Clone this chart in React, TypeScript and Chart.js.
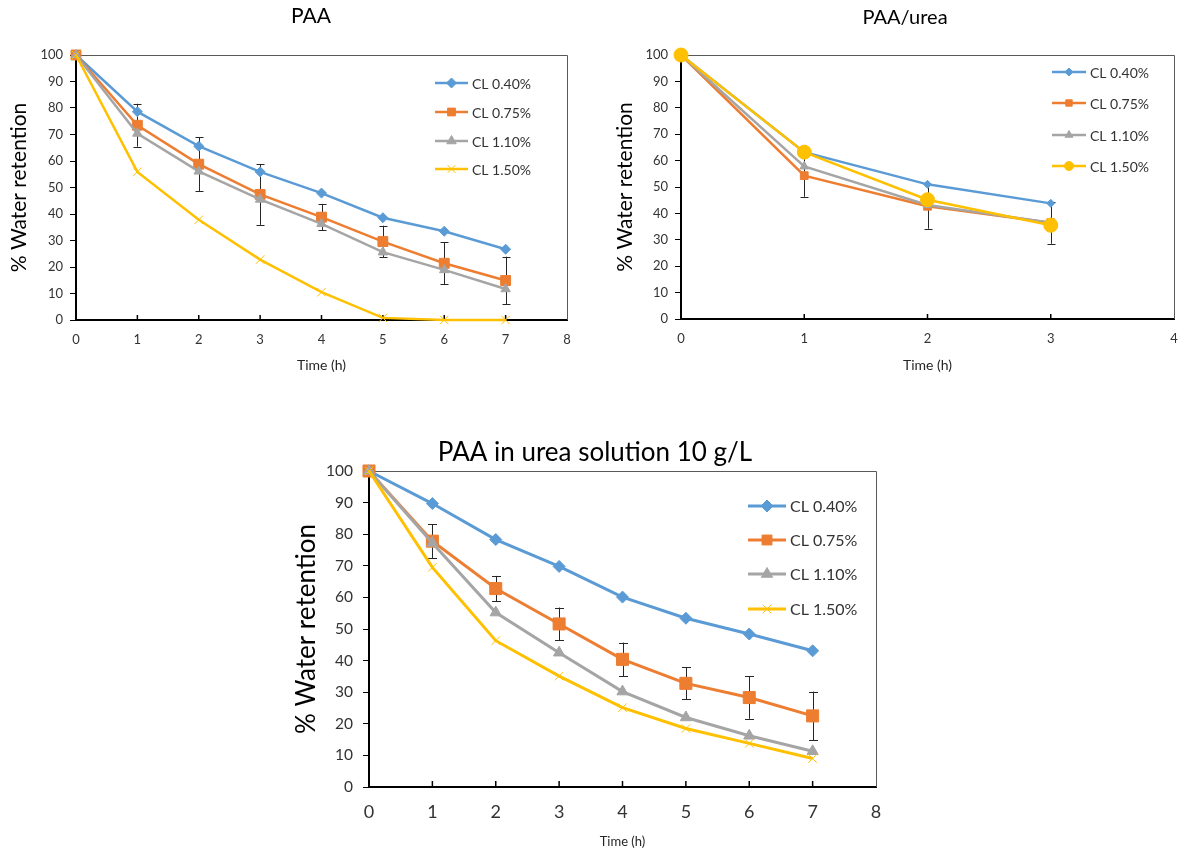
import React, { useEffect, useRef } from 'react';
import { Chart, registerables } from 'chart.js';
import { drawPoint } from 'chart.js/helpers';

Chart.register(...registerables);

const FONT = 'Lato, "Open Sans", "DejaVu Sans", sans-serif';

const seriesNames = ['CL 0.40%', 'CL 0.75%', 'CL 1.10%', 'CL 1.50%'];
const seriesColors = ['#5B9BD5', '#ED7D31', '#A5A5A5', '#FFC000'];

// Chart 1: PAA
const paaTimes = [0, 1, 2, 3, 4, 5, 6, 7];
const paaCL040 = [100, 78.6, 65.6, 55.9, 47.9, 38.6, 33.5, 26.7];
const paaCL075 = [100, 73.5, 58.8, 47.4, 38.8, 29.6, 21.4, 14.9];
const paaCL110 = [100, 70.4, 56.1, 45.5, 36.3, 25.6, 18.9, 11.7];
const paaCL150 = [100, 55.9, 37.8, 22.8, 10.5, 0.8, 0, 0];
const paaErr075 = [0, 8.1, 10.1, 11.5, 5, 6, 8, 9];
const paaXTicks = [0, 8];

// Chart 2: PAA/urea
const ureaTimes = [0, 1, 2, 3];
const ureaCL040 = [100, 63.2, 51, 43.8];
const ureaCL075 = [100, 54.3, 42.7, 36.5];
const ureaCL110 = [100, 57.8, 43.2, 36.5];
const ureaCL150 = [100, 63.2, 45.2, 35.5];
const ureaErr075 = [0, 8, 8.5, 8];
const ureaXTicks = [0, 4];

// Chart 3: PAA in urea solution 10 g/L
const solTimes = [0, 1, 2, 3, 4, 5, 6, 7];
const solCL040 = [100, 89.7, 78.3, 69.8, 60.1, 53.4, 48.4, 43.1];
const solCL075 = [100, 77.8, 62.8, 51.6, 40.4, 32.8, 28.3, 22.5];
const solCL110 = [100, 77.2, 55.2, 42.5, 30.2, 22, 16.2, 11.3];
const solCL150 = [100, 69.5, 46.3, 35.1, 25.1, 18.5, 13.8, 9];
const solErr075 = [0, 5.3, 4, 5.2, 5.3, 5.1, 6.7, 7.7];
const solXTicks = [0, 8];

const yTicks = [0, 100, 10];

const decorPlugin = {
  id: 'decor',
  beforeDatasetsDraw(chart: any, _args: any, opts: any) {
    const { ctx, chartArea: a, scales } = chart;
    const x = scales.x;
    const y = scales.y;
    ctx.save();
    // top and right frame
    ctx.strokeStyle = '#595959';
    ctx.lineWidth = 1;
    ctx.beginPath();
    ctx.moveTo(a.left, Math.round(a.top) + 0.5);
    ctx.lineTo(Math.round(a.right) + 0.5, Math.round(a.top) + 0.5);
    ctx.lineTo(Math.round(a.right) + 0.5, a.bottom);
    ctx.stroke();
    // inside x tick marks
    ctx.strokeStyle = '#000';
    ctx.lineWidth = 1.5;
    x.ticks.forEach((t: any) => {
      if (t.value === x.min || t.value === x.max) return;
      const px = x.getPixelForValue(t.value);
      ctx.beginPath();
      ctx.moveTo(px, a.bottom);
      ctx.lineTo(px, a.bottom - opts.xTickLen);
      ctx.stroke();
    });
    // error bars
    const ds = chart.data.datasets[opts.errSeries];
    const errs: number[] = opts.errors;
    ctx.strokeStyle = '#262626';
    ctx.lineWidth = 1;
    ds.data.forEach((p: any, i: number) => {
      const e = errs[i];
      if (!e) return;
      const px = Math.round(x.getPixelForValue(p.x)) + 0.5;
      const yt = y.getPixelForValue(p.y + e);
      const yb = y.getPixelForValue(p.y - e);
      const cap = opts.capHalf;
      ctx.beginPath();
      ctx.moveTo(px, yt);
      ctx.lineTo(px, yb);
      ctx.moveTo(px - cap, Math.round(yt) + 0.5);
      ctx.lineTo(px + cap, Math.round(yt) + 0.5);
      ctx.moveTo(px - cap, Math.round(yb) + 0.5);
      ctx.lineTo(px + cap, Math.round(yb) + 0.5);
      ctx.stroke();
    });
    ctx.restore();
  },
  afterDraw(chart: any, _args: any, opts: any) {
    const { ctx } = chart;
    ctx.save();
    // title
    ctx.fillStyle = '#000';
    ctx.font = `${opts.titleSize}px ${FONT}`;
    ctx.textAlign = 'center';
    ctx.textBaseline = 'middle';
    ctx.fillText(opts.title, opts.titleX, opts.titleY);
    // legend
    ctx.font = `${opts.legendSize}px ${FONT}`;
    ctx.textAlign = 'left';
    chart.data.datasets.forEach((ds: any, i: number) => {
      const ly = opts.legendYs[i];
      const lx = opts.legendX;
      const len = opts.legendLen;
      ctx.strokeStyle = ds.borderColor;
      ctx.lineWidth = ds.borderWidth;
      ctx.beginPath();
      ctx.moveTo(lx, ly);
      ctx.lineTo(lx + len, ly);
      ctx.stroke();
      ctx.fillStyle = ds.pointBackgroundColor;
      ctx.strokeStyle = ds.pointBorderColor;
      ctx.lineWidth = ds.pointBorderWidth;
      drawPoint(ctx, {
        pointStyle: ds.pointStyle,
        rotation: 0,
        radius: Math.min(ds.pointRadius, opts.legendMaxRadius),
        borderWidth: ds.pointBorderWidth,
      }, lx + len / 2, ly);
      ctx.fillStyle = '#333';
      ctx.fillText(ds.label, lx + len + opts.legendGap, ly + 1);
    });
    ctx.restore();
  },
};

type Style = { pointStyle: string; radius: number; border: number };

function makeConfig(p: any) {
  const seriesValues: number[][] = p.series;
  const datasets = seriesValues.map((vals, i) => {
    const st: Style = p.styles[i];
    const c = seriesColors[i];
    return {
      label: seriesNames[i],
      data: vals.map((v, k) => ({ x: p.times[k], y: v })),
      borderColor: c,
      backgroundColor: c,
      borderWidth: p.lineWidth,
      pointStyle: st.pointStyle,
      pointRadius: st.radius,
      pointHoverRadius: st.radius,
      pointBackgroundColor: c,
      pointBorderColor: c,
      pointBorderWidth: st.border,
      tension: 0,
      clip: false,
      order: 4 - i,
    };
  });
  return {
    type: 'line',
    data: { datasets },
    plugins: [decorPlugin],
    options: {
      animation: false,
      responsive: false,
      devicePixelRatio: 1,
      events: [],
      layout: { padding: { left: 0, top: p.padTop, right: p.padRight, bottom: 0 } },
      scales: {
        x: {
          type: 'linear',
          min: p.xTicks[0],
          max: p.xTicks[1],
          afterFit: (s: any) => {
            s.height = p.xAxisH;
            s.paddingLeft = 0;
            s.paddingRight = 0;
          },
          ticks: { stepSize: 1, color: '#333', font: { family: FONT, size: p.xTickSize }, padding: p.xTickPad },
          grid: { display: true, drawOnChartArea: false, drawTicks: false },
          border: { display: true, color: '#000', width: 2 },
          title: {
            display: true,
            text: 'Time (h)',
            color: '#262626',
            font: { family: FONT, size: p.xTitleSize, lineHeight: 1 },
            padding: { top: 0, bottom: p.xTitlePad },
          },
        },
        y: {
          min: yTicks[0],
          max: yTicks[1],
          afterFit: (s: any) => { s.width = p.yAxisW; },
          ticks: { stepSize: yTicks[2], color: '#333', font: { family: FONT, size: p.yTickSize }, padding: p.yTickPad },
          grid: { display: true, drawOnChartArea: false, drawTicks: true, tickLength: 6, color: '#000', lineWidth: 1 },
          border: { display: true, color: '#000', width: 2 },
          title: {
            display: true,
            text: '% Water retention',
            color: '#000',
            font: { family: FONT, size: p.yTitleSize, lineHeight: 1 },
            padding: { top: p.yTitlePad, bottom: 0 },
          },
        },
      },
      plugins: {
        legend: { display: false },
        title: { display: false },
        tooltip: { enabled: false },
        decor: {
          title: p.title,
          titleX: p.titleX,
          titleY: p.titleY,
          titleSize: p.titleSize,
          legendX: p.legendX,
          legendYs: p.legendYs,
          legendLen: p.legendLen,
          legendGap: p.legendGap,
          legendSize: p.legendSize,
          legendMaxRadius: p.legendMaxRadius,
          errSeries: 1,
          errors: p.errors,
          capHalf: p.capHalf,
          xTickLen: p.xTickLen,
        },
      },
    },
  };
}

const chart1 = makeConfig({
  times: paaTimes,
  series: [paaCL040, paaCL075, paaCL110, paaCL150],
  errors: paaErr075,
  xTicks: paaXTicks,
  styles: [
    { pointStyle: 'rectRot', radius: 5, border: 1 },
    { pointStyle: 'rect', radius: 7, border: 1 },
    { pointStyle: 'triangle', radius: 5.5, border: 1 },
    { pointStyle: 'crossRot', radius: 6, border: 1 },
  ],
  lineWidth: 2.5,
  padTop: 55, padRight: 18, xAxisH: 60, yAxisW: 76,
  xTickSize: 13, yTickSize: 13, xTickPad: 12, yTickPad: 7,
  xTitleSize: 14, xTitlePad: 8, yTitleSize: 21, yTitlePad: 9,
  title: 'PAA', titleX: 311, titleY: 16, titleSize: 21,
  legendX: 435, legendYs: [83, 112, 141, 169], legendLen: 33, legendGap: 4, legendSize: 14, legendMaxRadius: 5.5,
  capHalf: 4, xTickLen: 5,
});

const chart2 = makeConfig({
  times: ureaTimes,
  series: [ureaCL040, ureaCL075, ureaCL110, ureaCL150],
  errors: ureaErr075,
  xTicks: ureaXTicks,
  styles: [
    { pointStyle: 'rectRot', radius: 4, border: 1 },
    { pointStyle: 'rect', radius: 5.5, border: 1 },
    { pointStyle: 'triangle', radius: 5, border: 1 },
    { pointStyle: 'circle', radius: 7, border: 1 },
  ],
  lineWidth: 2.5,
  padTop: 55, padRight: 9, xAxisH: 61, yAxisW: 91,
  xTickSize: 13, yTickSize: 13, xTickPad: 12, yTickPad: 7,
  xTitleSize: 14, xTitlePad: 8, yTitleSize: 21, yTitlePad: 25,
  title: 'PAA/urea', titleX: 315, titleY: 18, titleSize: 20,
  legendX: 462, legendYs: [72, 103, 135, 166], legendLen: 34, legendGap: 4, legendSize: 14, legendMaxRadius: 4.5,
  capHalf: 4, xTickLen: 5,
});

const chart3 = makeConfig({
  times: solTimes,
  series: [solCL040, solCL075, solCL110, solCL150],
  errors: solErr075,
  xTicks: solXTicks,
  styles: [
    { pointStyle: 'rectRot', radius: 6, border: 1 },
    { pointStyle: 'rect', radius: 8.5, border: 1 },
    { pointStyle: 'triangle', radius: 6.5, border: 1 },
    { pointStyle: 'crossRot', radius: 6, border: 1 },
  ],
  lineWidth: 3,
  padTop: 41, padRight: 14, xAxisH: 67, yAxisW: 79,
  xTickSize: 18, yTickSize: 15.5, xTickPad: 14, yTickPad: 10,
  xTitleSize: 13, xTitlePad: 6, yTitleSize: 26, yTitlePad: 4,
  title: 'PAA in urea solution 10 g/L', titleX: 305, titleY: 23, titleSize: 26,
  legendX: 458, legendYs: [76, 110, 144, 179], legendLen: 38, legendGap: 4, legendSize: 16, legendMaxRadius: 7,
  capHalf: 4.5, xTickLen: 6,
});

function ChartCanvas({ config, left, top, width, height }: any) {
  const ref = useRef<HTMLCanvasElement>(null);
  useEffect(() => {
    const chart = new Chart(ref.current as HTMLCanvasElement, config as any);
    return () => chart.destroy();
  }, []);
  return (
    <canvas
      ref={ref}
      width={width}
      height={height}
      style={{ position: 'absolute', left, top, width, height }}
    />
  );
}

export default function App() {
  return (
    <div style={{ position: 'fixed', left: 0, top: 0, width: 1183, height: 854, background: '#fff', overflow: 'hidden' }}>
      <ChartCanvas config={chart1} left={0} top={0} width={585} height={380} />
      <ChartCanvas config={chart2} left={590} top={0} width={593} height={380} />
      <ChartCanvas config={chart3} left={290} top={430} width={600} height={424} />
    </div>
  );
}
